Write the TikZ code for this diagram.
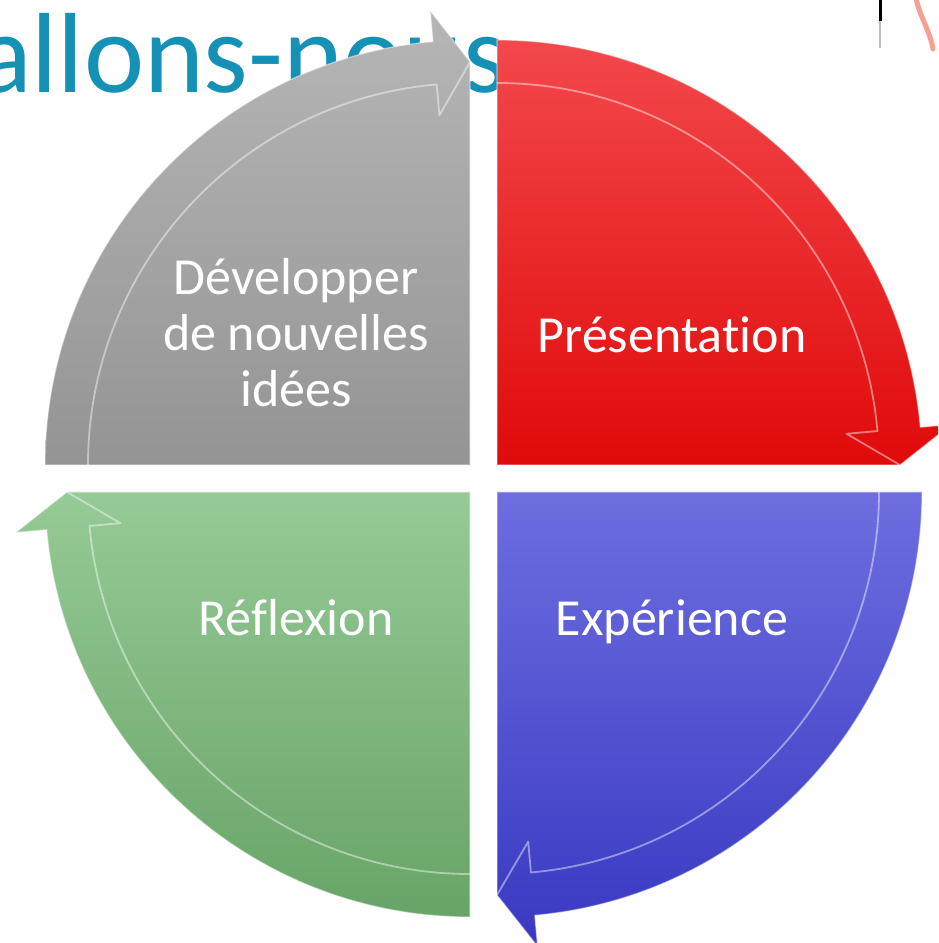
\documentclass[tikz,border=0pt]{standalone}
\usepackage{fontspec}
\setmainfont{Carlito}[Ligatures=NoCommon]
\definecolor{titleblue}{RGB}{22,145,182}
\definecolor{grayT}{RGB}{182,182,182}
\definecolor{grayB}{RGB}{148,148,148}
\definecolor{redT}{RGB}{243,72,76}
\definecolor{redB}{RGB}{224,10,10}
\definecolor{blueT}{RGB}{110,110,224}
\definecolor{blueB}{RGB}{56,56,194}
\definecolor{greenT}{RGB}{150,202,150}
\definecolor{greenB}{RGB}{104,164,104}
\definecolor{pinkstroke}{RGB}{245,160,145}
\begin{document}
\begin{tikzpicture}[x=1pt,y=1pt,
  quadedge/.style={line width=1.2pt, draw=white, draw opacity=0.45},
  hl/.style={draw=white, draw opacity=0.45, line width=1.8pt, line join=round},
  lbl/.style={text=white, font=\fontsize{52}{56}\selectfont, align=center, inner sep=0pt}]
\useasboundingbox (0,0) rectangle (938,943);
\clip (0,0) rectangle (938,943);
\fill[white] (0,0) rectangle (938,943);
% title behind
\node[anchor=base west, inner sep=0pt, text=titleblue, font=\fontsize{114}{120}\selectfont] (title) at (-23,850) {allons-nous};
% fragments at top right
\draw[black, line width=3pt] (880,943) -- (880,922);
\draw[black!25, line width=1.5pt] (880,922) -- (880,895);
\draw[pinkstroke, line width=5pt, line cap=round] (916,945) .. controls (919,928) and (930,912) .. (933,894);
% corners
\coordinate (cg) at (470,478);
\coordinate (cr) at (497,478);
\coordinate (cb) at (497,451);
\coordinate (cn) at (470,451);
% gray quadrant
\path[top color=grayT, bottom color=grayB, quadedge] (cg) -- ([shift={(180:425)}]cg) arc[start angle=180,end angle=95,radius=425] -- ([shift={(95:456)}]cg) -- ([shift={(90:403)}]cg) -- cycle;
\draw[hl] ([shift={(180:382)}]cg) arc[start angle=180,end angle=95,radius=382] -- ([shift={(95:351)}]cg) -- ([shift={(90:403)}]cg);
% red quadrant
\path[top color=redT, bottom color=redB, quadedge] (cr) -- ([shift={(90:425)}]cr) arc[start angle=90,end angle=5.1,radius=425] -- ([shift={(5.1:456)}]cr) -- ([shift={(0:403)}]cr) -- cycle;
\draw[hl] ([shift={(90:382)}]cr) arc[start angle=90,end angle=5.1,radius=382] -- ([shift={(5.1:351)}]cr) -- ([shift={(0:403)}]cr);
% blue quadrant
\path[top color=blueT, bottom color=blueB, quadedge] (cb) -- ([shift={(0:425)}]cb) arc[start angle=0,end angle=-84.9,radius=425] -- ([shift={(-84.9:456)}]cb) -- ([shift={(-90:403)}]cb) -- cycle;
\draw[hl] ([shift={(0:382)}]cb) arc[start angle=0,end angle=-84.9,radius=382] -- ([shift={(-84.9:351)}]cb) -- ([shift={(-90:403)}]cb);
% green quadrant
\path[top color=greenT, bottom color=greenB, quadedge] (cn) -- ([shift={(-90:425)}]cn) arc[start angle=-90,end angle=-174.9,radius=425] -- ([shift={(-174.9:456)}]cn) -- ([shift={(180:403)}]cn) -- cycle;
\draw[hl] ([shift={(-90:382)}]cn) arc[start angle=-90,end angle=-174.9,radius=382] -- ([shift={(-174.9:351)}]cn) -- ([shift={(180:403)}]cn);
% labels
\node[lbl] (t1) at (296,610) {Développer\\de nouvelles\\idées};
\node[lbl, anchor=base] (t2) at (672,590) {Présentation};
\node[lbl, anchor=base] (t3) at (672,307) {Expérience};
\node[lbl, anchor=base] (t4) at (296,307) {Réflexion};
\end{tikzpicture}
\end{document}
